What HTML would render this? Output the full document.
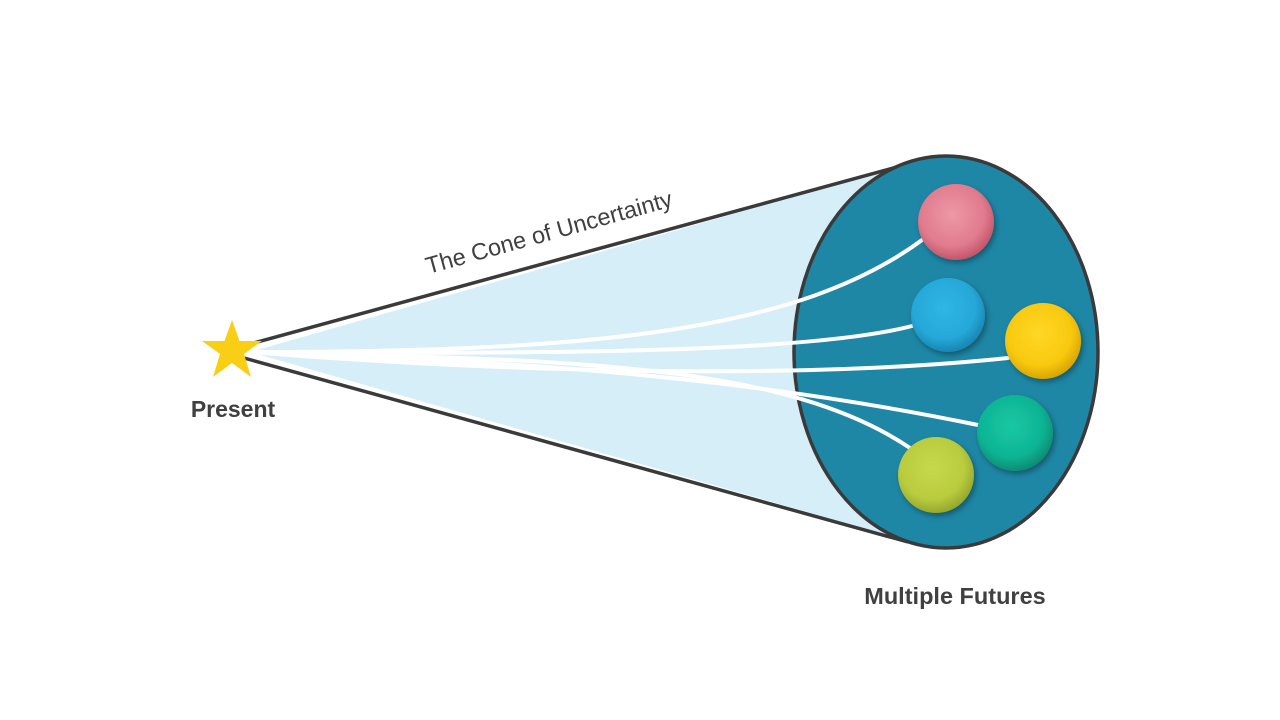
<!DOCTYPE html>
<html><head><meta charset="utf-8"><style>
html,body{margin:0;padding:0;background:#fff;width:1280px;height:720px;overflow:hidden}
text{font-family:"Liberation Sans",sans-serif}
</style></head><body>
<svg width="1280" height="720" viewBox="0 0 1280 720">
<defs>
<radialGradient id="gPink" cx="45%" cy="40%" r="60%"><stop offset="0" stop-color="#ee98a6"/><stop offset="0.7" stop-color="#e07b8d"/><stop offset="1" stop-color="#c4566a"/></radialGradient>
<radialGradient id="gBlue" cx="45%" cy="40%" r="60%"><stop offset="0" stop-color="#2fb6e4"/><stop offset="0.7" stop-color="#26a8d8"/><stop offset="1" stop-color="#1a86b4"/></radialGradient>
<radialGradient id="gYellow" cx="45%" cy="40%" r="60%"><stop offset="0" stop-color="#ffd726"/><stop offset="0.7" stop-color="#f8c90f"/><stop offset="1" stop-color="#d9a600"/></radialGradient>
<radialGradient id="gTeal" cx="45%" cy="40%" r="60%"><stop offset="0" stop-color="#14c8a4"/><stop offset="0.7" stop-color="#10b494"/><stop offset="1" stop-color="#0b8d74"/></radialGradient>
<radialGradient id="gLime" cx="45%" cy="40%" r="60%"><stop offset="0" stop-color="#c6d84c"/><stop offset="0.7" stop-color="#b9cc3e"/><stop offset="1" stop-color="#97a82c"/></radialGradient>
<filter id="sh" x="-30%" y="-30%" width="160%" height="160%"><feDropShadow dx="2" dy="3" stdDeviation="3" flood-color="#000" flood-opacity="0.35"/></filter>
</defs>
<polygon points="250,352 905,165 905,540" fill="#d6eef8"/>
<line x1="250" y1="344" x2="908" y2="164" stroke="#3a3a3a" stroke-width="3.5"/>
<line x1="244" y1="358" x2="908" y2="542" stroke="#3a3a3a" stroke-width="3.5"/>
<ellipse cx="946" cy="352" rx="152" ry="196" fill="#1e87a6" stroke="#3a3a3a" stroke-width="3.5"/>
<g fill="none" stroke="#fff" stroke-width="4" stroke-linecap="round">
<path d="M250,352 C600,352 800,330 922,240"/>
<path d="M250,352 C600,355 820,350 912,326"/>
<path d="M250,352 C500,372 800,380 1008,358"/>
<path d="M250,352 C550,362 760,380 978,425"/>
<path d="M250,352 C550,360 780,360 910,448"/>
</g>
<circle cx="956" cy="222" r="38" fill="url(#gPink)" filter="url(#sh)"/>
<circle cx="948" cy="315" r="37" fill="url(#gBlue)" filter="url(#sh)"/>
<circle cx="1043" cy="341" r="38" fill="url(#gYellow)" filter="url(#sh)"/>
<circle cx="1015" cy="433" r="38" fill="url(#gTeal)" filter="url(#sh)"/>
<circle cx="936" cy="475" r="38" fill="url(#gLime)" filter="url(#sh)"/>
<polygon fill="#f8cf14" points="232,320 239.5,341 262,341 244,354 251,377 232,363 213,377 220,354 202,341 224.5,341"/>
<text x="233" y="417" text-anchor="middle" font-size="23" font-weight="bold" fill="#404040">Present</text>
<text x="551" y="240" text-anchor="middle" font-size="23.5" fill="#404040" transform="rotate(-15.5 551 240)">The Cone of Uncertainty</text>
<text x="955" y="604" text-anchor="middle" font-size="23.5" font-weight="bold" fill="#404040">Multiple Futures</text>
</svg>
</body></html>
